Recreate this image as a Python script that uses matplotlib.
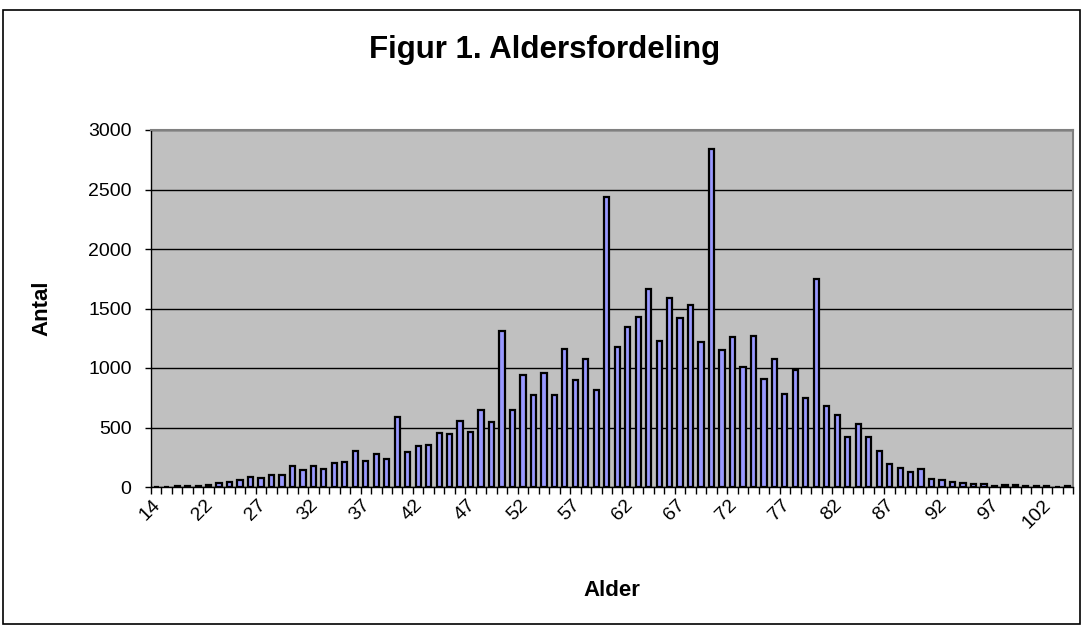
import numpy as np
import matplotlib
matplotlib.use("Agg")
import matplotlib.pyplot as plt
import matplotlib.transforms as mtransforms
from matplotlib.patches import Rectangle

plt.rcParams['font.family'] = ['Liberation Sans', 'DejaVu Sans']

ages = [14] + list(range(18, 105))
counts = [
    1, 1, 8, 8, 8, 20, 34, 42, 56, 87,          # 14,18-26
    76, 104, 104, 180, 140, 179, 153, 202, 207, 304,   # 27-36
    222, 275, 233, 591, 290, 341, 352, 457, 446, 552,  # 37-46
    466, 649, 548, 1315, 649, 939, 773, 961, 776, 1161, # 47-56
    896, 1079, 812, 2433, 1180, 1343, 1425, 1661, 1228, 1588, # 57-66
    1416, 1531, 1217, 2838, 1155, 1261, 1006, 1270, 905, 1073, # 67-76
    778, 986, 747, 1747, 680, 607, 416, 531, 416, 303,  # 77-86
    191, 157, 129, 155, 67, 56, 39, 31, 22, 28,        # 87-96
    11, 14, 14, 8, 11, 8, 2, 8                          # 97-104
]
label_every = 5
title = "Figur 1. Aldersfordeling"
xlabel = "Alder"
ylabel = "Antal"
yticks = [0, 500, 1000, 1500, 2000, 2500, 3000]

W, H = 1084, 628
fig = plt.figure(figsize=(W / 100, H / 100), dpi=100)
fig.patch.set_facecolor('white')
# outer chart border
fig.add_artist(Rectangle((3 / W, 4 / H), 1077 / W, 614 / H, transform=fig.transFigure,
                         fill=False, edgecolor='black', linewidth=1.2))

L, R, T, B = 151, 1073, 130, 487
ax = fig.add_axes([L / W, (H - B) / H, (R - L) / W, (B - T) / H])
ax.set_facecolor('#C0C0C0')

n = len(ages)
x = np.arange(n)
ax.bar(x, counts, width=0.5, color='#9999FF', edgecolor='black', linewidth=1.6, zorder=3)

ax.set_xlim(-0.5, n - 0.5)
ax.set_ylim(0, 3000)
ax.set_yticks(yticks)
ax.set_yticklabels([str(v) for v in yticks], fontsize=14)
ax.yaxis.grid(True, color='black', linewidth=1.0, zorder=1)
ax.set_axisbelow(True)

# category boundary ticks
ax.set_xticks(np.arange(-0.5, n, 1))
ax.set_xticklabels([])
ax.tick_params(axis='x', which='major', length=5, width=1, color='black', direction='out')
ax.tick_params(axis='y', which='major', length=4.5, width=1, color='black', direction='out', pad=9.5)

lab_pos = list(range(0, n, label_every))
ax.set_xticks(lab_pos, minor=True)
ax.set_xticklabels([str(ages[i]) for i in lab_pos], minor=True, fontsize=14,
                   rotation=45, ha='right', va='center', rotation_mode='anchor')
ax.tick_params(axis='x', which='minor', length=0, pad=11)
offset = mtransforms.ScaledTranslation(2 / 100, 0, fig.dpi_scale_trans)
for lbl in ax.get_xticklabels(minor=True):
    lbl.set_transform(lbl.get_transform() + offset)

for side in ['top', 'right']:
    ax.spines[side].set_color('#808080')
    ax.spines[side].set_linewidth(1.5)
for side in ['left', 'bottom']:
    ax.spines[side].set_color('black')
    ax.spines[side].set_linewidth(1.0)

fig.text(545 / W, 1 - 50 / H, title, ha='center', va='center', fontsize=22.5, fontweight='bold')
fig.text(612 / W, 1 - 590 / H, xlabel, ha='center', va='center', fontsize=16, fontweight='bold')
fig.text(42 / W, 1 - 308 / H, ylabel, ha='center', va='center', fontsize=16, fontweight='bold',
         rotation=90)

fig.savefig('out.png', dpi=100)
